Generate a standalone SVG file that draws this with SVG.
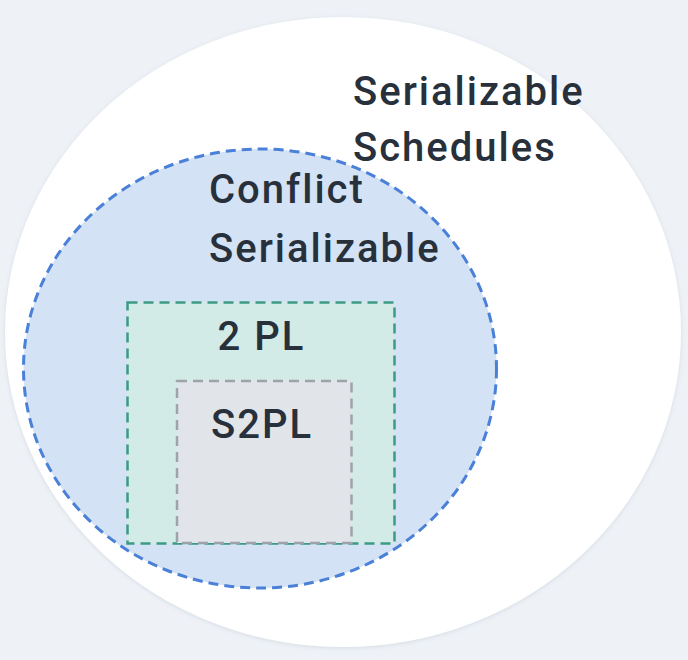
<svg xmlns="http://www.w3.org/2000/svg" width="688" height="660" viewBox="0 0 688 660">
<defs>
<filter id="sh" x="-5%" y="-5%" width="110%" height="110%">
<feDropShadow dx="0" dy="1" stdDeviation="2" flood-color="#8a96a8" flood-opacity="0.25"/>
</filter>
</defs>
<style>
.lbl{font-family:Roboto,"Liberation Sans",sans-serif;font-size:40px;font-weight:500;fill:#27303b;letter-spacing:2px}
</style>
<rect width="688" height="660" fill="#eef2f7"/>
<g id="serializable">
<ellipse cx="343" cy="332" rx="338" ry="315" fill="#ffffff" filter="url(#sh)"/>
<text class="lbl" x="353" y="105">Serializable</text>
<text class="lbl" x="353" y="161">Schedules</text>
</g>
<g id="conflict">
<ellipse cx="260" cy="368.5" rx="236.5" ry="219.5" fill="#d3e2f4" stroke="#4a80d8" stroke-width="3" stroke-dasharray="10 6"/>
<text class="lbl" x="209" y="203">Conflict</text>
<text class="lbl" x="209" y="262">Serializable</text>
</g>
<g id="twopl">
<rect x="127.5" y="302.5" width="267" height="241" fill="#d3ebe6" stroke="#3d9a84" stroke-width="2.5" stroke-dasharray="10 6"/>
<text class="lbl" x="261.5" y="350" text-anchor="middle">2 PL</text>
</g>
<g id="s2pl">
<rect x="177" y="381" width="174.5" height="162" fill="#e1e5ea" stroke="#9ea2aa" stroke-width="2.5" stroke-dasharray="10 6"/>
<text class="lbl" x="262" y="438" text-anchor="middle">S2PL</text>
</g>
<g id="connectors"></g>
</svg>
